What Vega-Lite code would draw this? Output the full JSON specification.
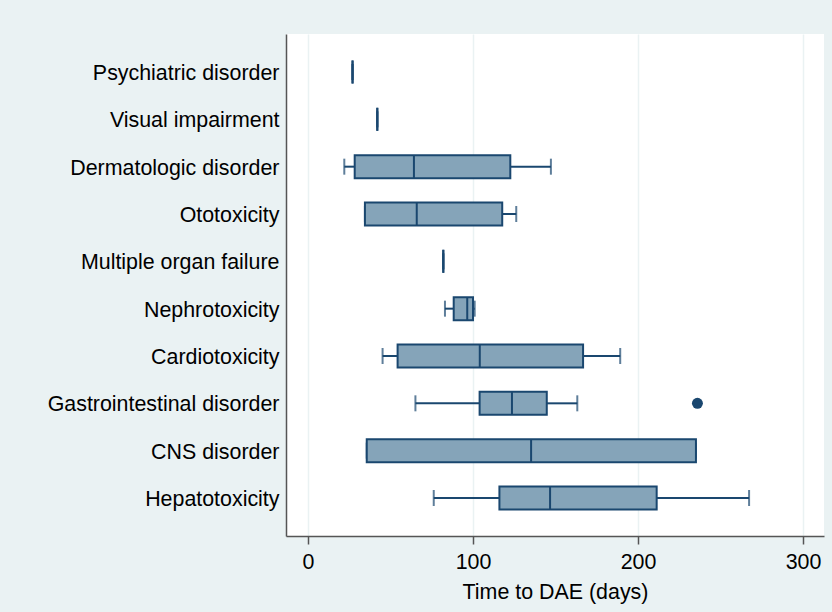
{
  "$schema": "https://vega.github.io/schema/vega-lite/v6.json",
  "autosize": "none",
  "width": 538,
  "height": 502,
  "padding": {"left": 286, "top": 34, "right": 8, "bottom": 76},
  "background": "#EAF2F3",
  "config": {
    "view": {"fill": "white", "stroke": null},
    "font": "Liberation Sans"
  },
  "datasets": {
    "boxes": [
      {"cat": "Psychiatric disorder", "low": 27, "q1": 27, "med": 27, "q3": 27, "high": 27},
      {"cat": "Visual impairment", "low": 42, "q1": 42, "med": 42, "q3": 42, "high": 42},
      {"cat": "Dermatologic disorder", "low": 22, "q1": 28.3, "med": 64.2, "q3": 122.6, "high": 147.2},
      {"cat": "Ototoxicity", "low": 34.5, "q1": 34.5, "med": 65.9, "q3": 117.7, "high": 126.2},
      {"cat": "Multiple organ failure", "low": 82, "q1": 82, "med": 82, "q3": 82, "high": 82},
      {"cat": "Nephrotoxicity", "low": 83, "q1": 88.3, "med": 96.5, "q3": 100, "high": 101},
      {"cat": "Cardiotoxicity", "low": 45.2, "q1": 54.3, "med": 104.1, "q3": 166.7, "high": 189.2},
      {"cat": "Gastrointestinal disorder", "low": 65.1, "q1": 104, "med": 123.6, "q3": 144.7, "high": 163.2},
      {"cat": "CNS disorder", "low": 35.6, "q1": 35.6, "med": 135.2, "q3": 235.1, "high": 235.1},
      {"cat": "Hepatotoxicity", "low": 76.2, "q1": 116, "med": 146.7, "q3": 211.3, "high": 267.3}
    ],
    "outliers": [
      {"cat": "Gastrointestinal disorder", "value": 236}
    ]
  },
  "encoding": {
    "y": {
      "field": "cat",
      "type": "nominal",
      "sort": ["Psychiatric disorder", "Visual impairment", "Dermatologic disorder", "Ototoxicity", "Multiple organ failure", "Nephrotoxicity", "Cardiotoxicity", "Gastrointestinal disorder", "CNS disorder", "Hepatotoxicity"],
      "scale": {"paddingInner": 0, "paddingOuter": 0.303},
      "axis": {
        "title": null,
        "ticks": false,
        "labelFontSize": 21.4,
        "labelColor": "#000000",
        "labelPadding": 7,
        "labelOffset": 2,
        "labelLimit": 400,
        "domainColor": "#555555",
        "domainWidth": 1.5,
        "grid": false
      }
    }
  },
  "layer": [
    {
      "data": {"name": "boxes"},
      "mark": {"type": "rule", "color": "#1a476f", "strokeWidth": 2},
      "encoding": {
        "x": {
          "field": "low",
          "type": "quantitative",
          "scale": {"domain": [-13.33, 312.7], "nice": false, "zero": false},
          "axis": {
            "title": "Time to DAE (days)",
            "titleFontSize": 21.4,
            "titleFontWeight": "normal",
            "titleColor": "#000000",
            "titlePadding": 9,
            "values": [0, 100, 200, 300],
            "labelFontSize": 21.4,
            "labelColor": "#000000",
            "labelPadding": 7,
            "tickSize": 8,
            "tickColor": "#555555",
            "tickWidth": 1.5,
            "domainColor": "#555555",
            "domainWidth": 1.5,
            "grid": true,
            "gridColor": "#EAF2F3",
            "gridWidth": 1.5
          }
        },
        "x2": {"field": "q1"}
      }
    },
    {
      "data": {"name": "boxes"},
      "mark": {"type": "rule", "color": "#1a476f", "strokeWidth": 2},
      "encoding": {
        "x": {"field": "q3", "type": "quantitative"},
        "x2": {"field": "high"}
      }
    },
    {
      "data": {"name": "boxes"},
      "mark": {"type": "tick", "color": "#1a476f", "size": 16, "thickness": 2, "orient": "vertical"},
      "encoding": {
        "x": {"field": "low", "type": "quantitative"}
      }
    },
    {
      "data": {"name": "boxes"},
      "mark": {"type": "tick", "color": "#1a476f", "size": 16, "thickness": 2, "orient": "vertical"},
      "encoding": {
        "x": {"field": "high", "type": "quantitative"}
      }
    },
    {
      "data": {"name": "boxes"},
      "mark": {"type": "bar", "fill": "#85a4b9", "stroke": "#1a476f", "strokeWidth": 2, "height": 23, "opacity": 1},
      "encoding": {
        "x": {"field": "q1", "type": "quantitative"},
        "x2": {"field": "q3"}
      }
    },
    {
      "data": {"name": "boxes"},
      "mark": {"type": "tick", "color": "#1a476f", "size": 23, "thickness": 2, "orient": "vertical", "opacity": 1},
      "encoding": {
        "x": {"field": "med", "type": "quantitative"}
      }
    },
    {
      "data": {"name": "outliers"},
      "mark": {"type": "point", "filled": true, "color": "#1a476f", "size": 120, "opacity": 1},
      "encoding": {
        "x": {"field": "value", "type": "quantitative"}
      }
    }
  ]
}
